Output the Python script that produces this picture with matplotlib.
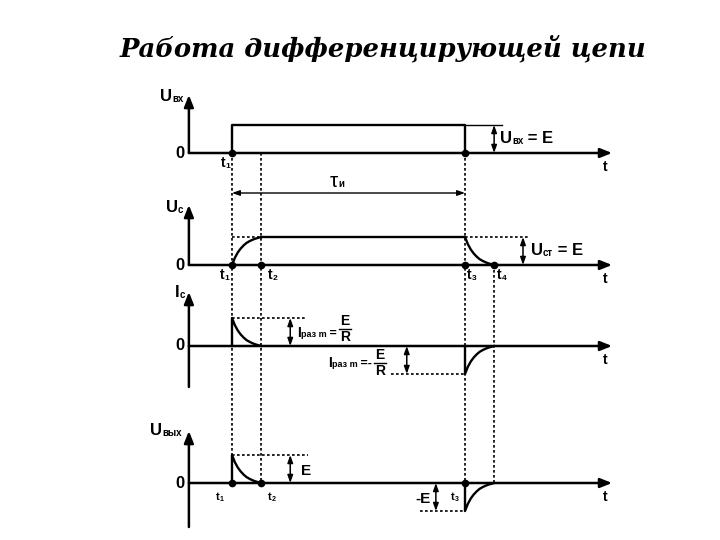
"""Differentiating RC circuit: input pulse, capacitor voltage, current and output."""
import matplotlib.pyplot as plt

# time marks, in units where the pulse length t3 - t1 is 8
t_marks = [0.0, 1.0, 8.0, 9.0]
t_subs = ["1", "2", "3", "4"]
E = 1.0
# exponential transient (fraction of t2 - t1 -> level)
decay_phase = [0.0, 0.1, 0.2, 0.3, 0.4, 0.5, 0.6, 0.7, 0.8, 0.9, 1.0]
decay_level = [1.0, 0.74, 0.55, 0.41, 0.30, 0.21, 0.15, 0.10, 0.06, 0.03, 0.0]

title = "Работа дифференцирующей цепи"

# layout (pixels of a 720x540 canvas)
PX_T1, PX_PER_T = 232, 29.125
AMP = 28
T_AX0, T_AX1 = -1.48, 13.05
base = {"uin": 153, "uc": 265, "ic": 346, "uout": 483}


def tx(px):
    return (px - PX_T1) / PX_PER_T


def yv(panel, v):
    return base[panel] - v * AMP


t1, t2, t3, t4 = t_marks
rise_t = [t1 + p * (t2 - t1) for p in decay_phase]
fall_t = [t3 + p * (t4 - t3) for p in decay_phase]

fig = plt.figure(figsize=(7.2, 5.4), dpi=100)
ax = fig.add_axes([0, 0, 1, 1])
ax.set_xlim(tx(0), tx(720))
ax.set_ylim(540, 0)
ax.axis("off")
renderer = fig.canvas.get_renderer()

K = "black"
LW = 1.7
DOT = (0, (1.6, 1.4))


def label(t, y, parts, ha="left", va="baseline"):
    """parts: (text, size, shift down px, bold)"""
    anns = []
    for text, size, dy, bold in parts:
        a = ax.annotate(text, (t, y), xytext=(0, 0), textcoords="offset pixels",
                        fontsize=size, fontweight="bold" if bold else "normal",
                        family="Liberation Sans", ha="left", va=va)
        anns.append((a, dy))
    widths = [a.get_window_extent(renderer).width for a, _ in anns]
    total = sum(widths)
    x = {"left": 0, "center": -total / 2, "right": -total}[ha]
    for (a, dy), w in zip(anns, widths):
        a.xyann = (x, -dy)
        x += w
    return ax.transData.transform((t, y))[0] + x


def frac(px, ybar, size=10):
    t = tx(px)
    ax.text(t, ybar - 1, "E", fontsize=size, fontweight="bold", family="Liberation Sans",
            ha="center", va="bottom")
    ax.text(t, ybar + 1, "R", fontsize=size, fontweight="bold", family="Liberation Sans",
            ha="center", va="top")
    ax.plot([tx(px - 6), tx(px + 6)], [ybar, ybar], color=K, lw=1)


def arrow(p0, p1, style, lw):
    ax.annotate("", xy=p1, xytext=p0,
                arrowprops=dict(arrowstyle=style, lw=lw, color=K, shrinkA=0, shrinkB=0))


AX_STYLE = "-|>,head_length=0.7,head_width=0.28"
DIM_STYLE = "<|-|>,head_length=0.45,head_width=0.16"

# axes
ax_tops = {"uin": (95, 153), "uc": (205, 265), "ic": (292, 387), "uout": (431, 527)}
for p, (top, bot) in ax_tops.items():
    arrow((T_AX0, bot), (T_AX0, top), AX_STYLE, 1.8)
    arrow((T_AX0, base[p]), (T_AX1, base[p]), AX_STYLE, 1.8)
    ax.text(tx(180), base[p], "0", fontsize=12, fontweight="bold",
            family="Liberation Sans", ha="center", va="center")
    label(tx(605), base[p] + 18, [("t", 10, 0, True)], ha="center")

# dotted time guides
for t, top in zip(t_marks, [153, 153, 153, 265]):
    ax.plot([t, t], [top, base["uout"]], color=K, lw=1.2, ls=DOT)

# input pulse
ax.plot([t1, t1, t3, t3], [yv("uin", 0), yv("uin", E), yv("uin", E), yv("uin", 0)],
        color=K, lw=LW)
ax.plot([t3, tx(502)], [yv("uin", E)] * 2, color=K, lw=1)
arrow((t4, yv("uin", E)), (t4, yv("uin", 0)), DIM_STYLE, 1.1)
label(tx(500), 143, [("U", 12, 0, True), ("вх", 7, 1, True), (" = E", 12, 0, True)])
label(tx(160), 101, [("U", 12, 0, True), ("вх", 7, 1, True)])
label(tx(221), 167, [("t", 10, 0, True), ("1", 6, 1, True)])
ax.plot([t1, t3], [yv("uin", 0)] * 2, "o", color=K, ms=4.5)

# pulse width
arrow((t1, 193), (t3, 193), DIM_STYLE, 1.0)
label(tx(330), 187, [("τ", 15, 0, False), ("и", 7, 0, True)])

# capacitor voltage
uc_t = rise_t + fall_t
uc_v = [E * (1 - d) for d in decay_level] + [E * d for d in decay_level]
ax.plot(uc_t, [yv("uc", v) for v in uc_v], color=K, lw=LW)
ax.plot([t1, t2], [yv("uc", E)] * 2, color=K, lw=1.2, ls=DOT)
ax.plot([t3, tx(528)], [yv("uc", E)] * 2, color=K, lw=1.2, ls=DOT)
arrow((tx(523), yv("uc", E)), (tx(523), yv("uc", 0)), DIM_STYLE, 1.1)
label(tx(531), 255, [("U", 12, 0, True), ("ст", 7, 1, True), (" = E", 12, 0, True)])
label(tx(166), 212, [("U", 12, 0, True), ("c", 7, 1, True)])
ax.plot(t_marks, [yv("uc", 0)] * 4, "o", color=K, ms=4.5)
for t, s, px in zip(t_marks, t_subs, [220, 268, 467, 497]):
    label(tx(px), 279, [("t", 10, 0, True), (s, 6, 1, True)])

# current and output voltage (same shape)
for p, ext in (("ic", (2.5, 5.45)), ("uout", (2.6, 6.45))):
    ax.plot([t1] + rise_t, [yv(p, 0)] + [yv(p, E * d) for d in decay_level],
            color=K, lw=LW)
    ax.plot([t3] + fall_t, [yv(p, 0)] + [yv(p, -E * d) for d in decay_level],
            color=K, lw=LW)
    ax.plot([t1, ext[0]], [yv(p, E)] * 2, color=K, lw=1.2, ls=DOT)
    ax.plot([ext[1], t3], [yv(p, -E)] * 2, color=K, lw=1.2, ls=DOT)

arrow((2.0, yv("ic", E)), (2.0, yv("ic", 0)), DIM_STYLE, 1.1)
arrow((6.0, yv("ic", 0)), (6.0, yv("ic", -E)), DIM_STYLE, 1.1)
end = label(tx(297), 337, [("I", 10, 0, True), ("раз m", 6.5, 0, True), (" =", 9, 0, True)])
frac(end + 8, 329)
end = label(tx(328), 367, [("I", 10, 0, True), ("раз m", 6.5, 0, True), (" =-", 9, 0, True)])
frac(end + 8, 363)
label(tx(175), 297, [("I", 12, 0, True), ("c", 7, 1, True)])

arrow((2.0, yv("uout", E)), (2.0, yv("uout", 0)), DIM_STYLE, 1.1)
arrow((7.0, yv("uout", 0)), (7.0, yv("uout", -E)), DIM_STYLE, 1.1)
label(tx(301), 475, [("E", 11, 0, True)])
label(tx(431), 503, [("-E", 11, 0, True)], ha="right")
label(tx(150), 435, [("U", 12, 0, True), ("вых", 7, 1, True)])
ax.plot([t1, t2, t3], [yv("uout", 0)] * 3, "o", color=K, ms=4.5)
for s, px in zip(["1", "2", "3"], [216, 268, 451]):
    label(tx(px), 500, [("t", 8, 0, True), (s, 5, 1, True)])

ax.text(tx(383), 48, title, fontsize=18.6, fontweight="bold", fontstyle="italic",
        family="DejaVu Serif", ha="center", va="center")

fig.savefig("out.png", dpi=100)
